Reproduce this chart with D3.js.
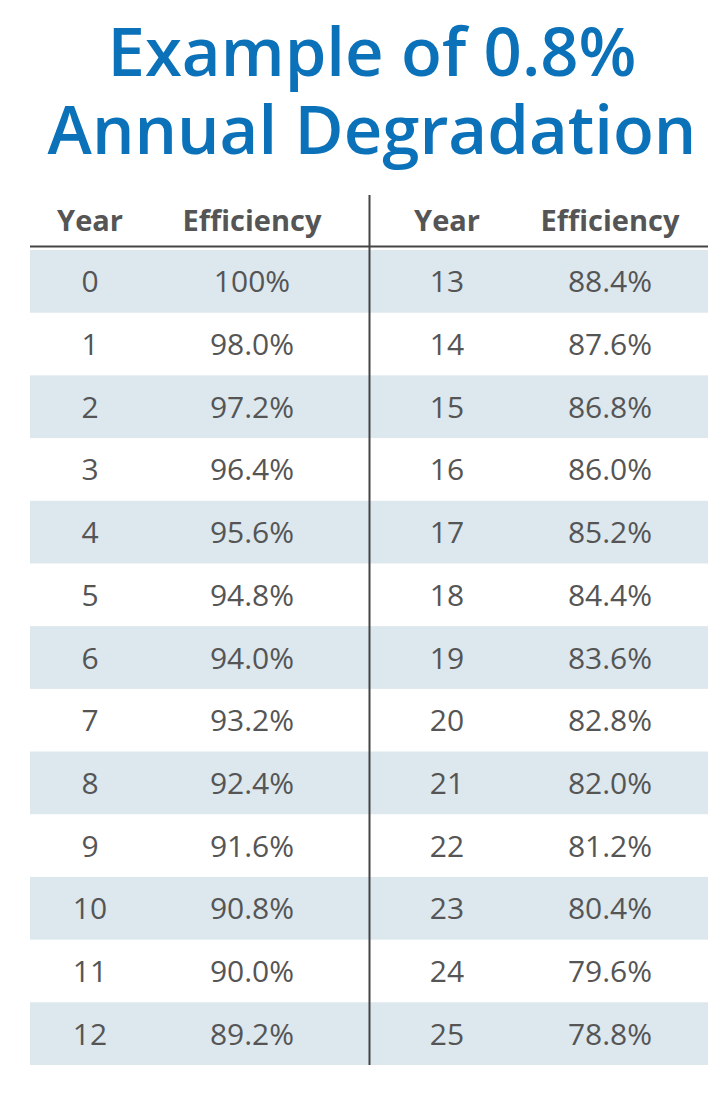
<!DOCTYPE html>
<html>
<head>
<meta charset="utf-8">
<script src="https://cdn.jsdelivr.net/npm/d3@7"></script>
<style>
  body { margin: 0; background: #fff; }
</style>
</head>
<body>
<div class="table-chart"></div>
<script>
// data
const title_lines = ["Example of 0.8%", "Annual Degradation"];
const headers = ["Year", "Efficiency", "Year", "Efficiency"];
const left_years = ["0", "1", "2", "3", "4", "5", "6", "7", "8", "9", "10", "11", "12"];
const left_eff = ["100%", "98.0%", "97.2%", "96.4%", "95.6%", "94.8%", "94.0%", "93.2%", "92.4%", "91.6%", "90.8%", "90.0%", "89.2%"];
const right_years = ["13", "14", "15", "16", "17", "18", "19", "20", "21", "22", "23", "24", "25"];
const right_eff = ["88.4%", "87.6%", "86.8%", "86.0%", "85.2%", "84.4%", "83.6%", "82.8%", "82.0%", "81.2%", "80.4%", "79.6%", "78.8%"];

// constants
const width = 727;
const height = 1095;
const font = "'Open Sans', sans-serif";
const title_color = "#0b72b9";
const text_color = "#555";
const band_color = "#dce7ee";

const svg = d3.select(".table-chart").append("svg")
    .attr("width", width)
    .attr("height", height);

// title
svg.selectAll(".title")
    .data(title_lines).enter()
    .append("text")
    .attr("class", "title")
    .attr("x", 372)
    .attr("y", (d, i) => 76 + i * 78)
    .attr("text-anchor", "middle")
    .attr("font-family", font)
    .attr("font-weight", 600)
    .attr("font-size", "67px")
    .attr("fill", title_color)
    .text(d => d);

// scales
const y_scale = d3.scaleBand()
    .domain(d3.range(left_years.length))
    .range([250, 1065]);

const col_x = d3.scaleOrdinal()
    .domain([0, 1, 2, 3])
    .range([90, 252, 447, 610]);

// bands
svg.selectAll(".band")
    .data(d3.range(left_years.length).filter(i => i % 2 === 0)).enter()
    .append("rect")
    .attr("class", "band")
    .attr("x", 30)
    .attr("width", 678)
    .attr("y", d => y_scale(d))
    .attr("height", y_scale.bandwidth())
    .attr("fill", band_color);

// header
svg.selectAll(".header")
    .data(headers).enter()
    .append("text")
    .attr("class", "header")
    .attr("x", (d, i) => col_x(i))
    .attr("y", 231)
    .attr("text-anchor", "middle")
    .attr("font-family", font)
    .attr("font-weight", 700)
    .attr("font-size", "29px")
    .attr("fill", text_color)
    .text(d => d);

svg.append("line")
    .attr("x1", 30).attr("x2", 708)
    .attr("y1", 246.5).attr("y2", 246.5)
    .attr("stroke", "#444").attr("stroke-width", 2);

svg.append("line")
    .attr("x1", 369.5).attr("x2", 369.5)
    .attr("y1", 195).attr("y2", 1065)
    .attr("stroke", "#444").attr("stroke-width", 2);

// cells
const columns = [left_years, left_eff, right_years, right_eff];
columns.forEach(function(col, ci) {
    svg.selectAll(".cell-" + ci)
        .data(col).enter()
        .append("text")
        .attr("class", "cell-" + ci)
        .attr("x", col_x(ci))
        .attr("y", (d, i) => y_scale(i) + y_scale.bandwidth() / 2 + 11)
        .attr("text-anchor", "middle")
        .attr("font-family", font)
        .attr("font-size", "30px")
        .attr("fill", text_color)
        .text(d => d);
});
</script>
</body>
</html>
